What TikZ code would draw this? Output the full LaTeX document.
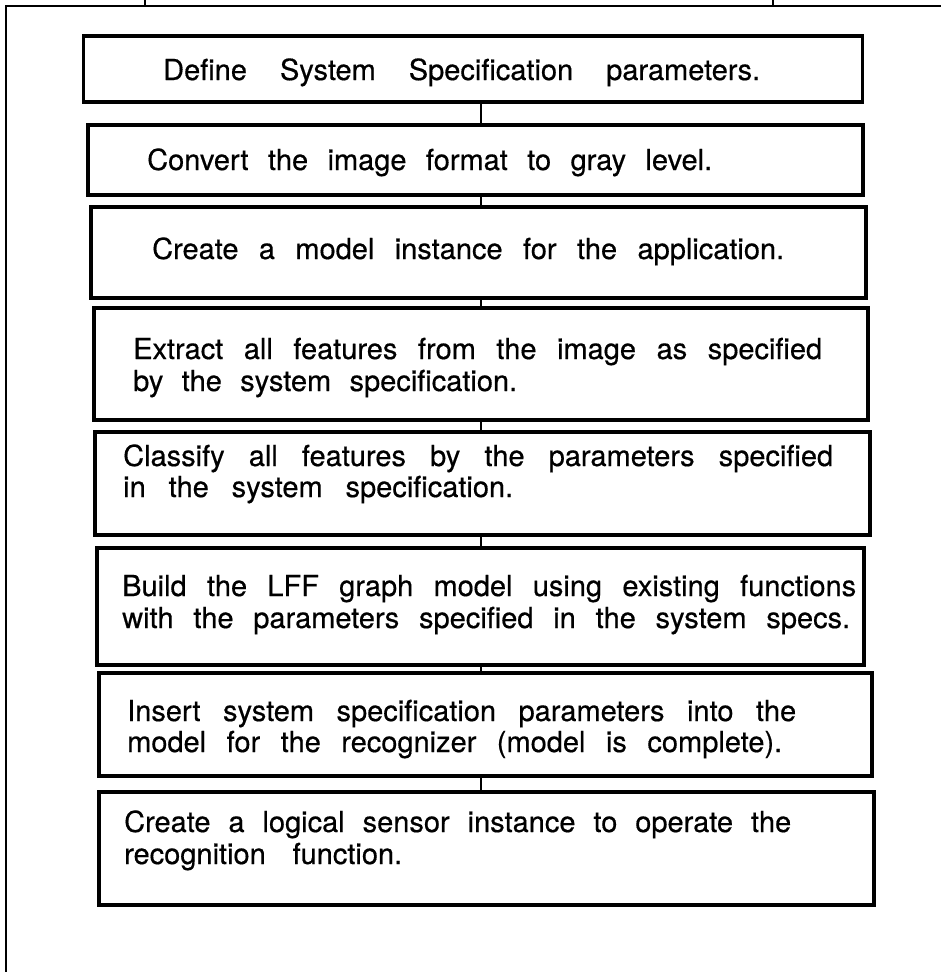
\documentclass[tikz,border=0pt]{standalone}
\usepackage{fontspec}
\setmainfont[FakeBold=0.5]{TeX Gyre Heros}
\newcommand\stepline[2]{\makebox[#1][s]{#2}}
\begin{document}
\begin{tikzpicture}[x=1pt,y=1pt,
  stepbox/.style={draw, line width=3.2pt, inner sep=0pt},
  conn/.style={line width=2.6pt},
  frame/.style={line width=2.6pt},
  txt/.style={anchor=base west, inner sep=0pt,
    font=\fontsize{29}{32}\selectfont}]
\useasboundingbox (0,0) rectangle (941,-972);

% outer frame and the edges reaching in from above
\draw[frame] (6,-972) -- (6,-6) -- (941,-6);
\coordinate (s1) at (145,0);
\coordinate (s2) at (773,0);
\draw[frame] (s1) -- ++(0,-6);
\draw[frame] (s2) -- ++(0,-6);

% process boxes
\node[stepbox, minimum width=779pt, minimum height=66pt] (b1) at (473,-69) {};
\node[stepbox, minimum width=775pt, minimum height=70pt] (b2) at (475.5,-160) {};
\node[stepbox, minimum width=775pt, minimum height=91pt] (b3) at (478.5,-252.5) {};
\node[stepbox, minimum width=774pt, minimum height=112pt] (b4) at (481,-364) {};
\node[stepbox, minimum width=775pt, minimum height=103pt] (b5) at (482.5,-483.5) {};
\node[stepbox, minimum width=767pt, minimum height=117pt] (b6) at (480.5,-606.5) {};
\node[stepbox, minimum width=773pt, minimum height=103pt] (b7) at (485.5,-724.5) {};
\node[stepbox, minimum width=775pt, minimum height=113pt] (b8) at (486.5,-848.5) {};

% connectors between consecutive boxes
\coordinate (cx) at (481,0);
\foreach \a/\b in {b1/b2,b2/b3,b3/b4,b4/b5,b5/b6,b6/b7,b7/b8}
  \draw[conn] (\a.south -| cx) -- (\b.north -| cx);

% box texts, each line spread to its printed width
\node[txt] (t1) at (163,-80) {\stepline{597pt}{Define System Specification parameters.}};
\node[txt] (t2) at (147,-170) {\stepline{565pt}{Convert the image format to gray level.}};
\node[txt] (t3) at (152,-259) {\stepline{632pt}{Create a model instance for the application.}};
\node[txt] (t4a) at (133,-359) {\stepline{689pt}{Extract all features from the image as specified}};
\node[txt] (t4b) at (133,-391) {\stepline{384pt}{by the system specification.}};
\node[txt] (t5a) at (123,-466) {\stepline{710pt}{Classify all features by the parameters specified}};
\node[txt] (t5b) at (123,-497) {\stepline{390pt}{in the system specification.}};
\node[txt] (t6a) at (122,-596) {\stepline{734pt}{Build the LFF graph model using existing functions}};
\node[txt] (t6b) at (122,-628) {\stepline{728pt}{with the parameters specified in the system specs.}};
\node[txt] (t7a) at (127,-721) {\stepline{669pt}{Insert system specification parameters into the}};
\node[txt] (t7b) at (127,-752) {\stepline{655pt}{model for the recognizer (model is complete).}};
\node[txt] (t8a) at (124,-832) {\stepline{667pt}{Create a logical sensor instance to operate the}};
\node[txt] (t8b) at (124,-864) {\stepline{278pt}{recognition function.}};
\end{tikzpicture}
\end{document}
